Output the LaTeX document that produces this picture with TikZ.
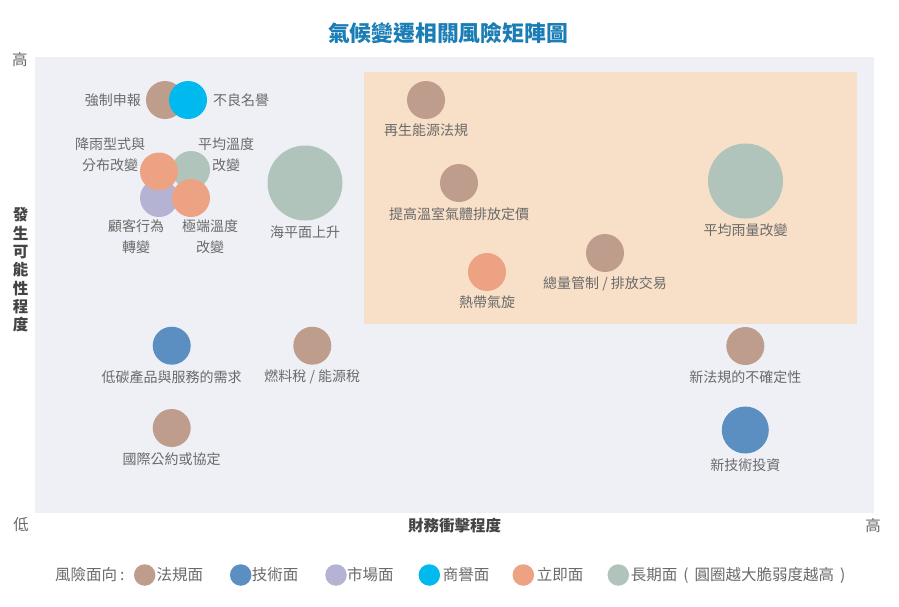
\documentclass[tikz,border=0pt]{standalone}
\usepackage{fontspec}
\setmainfont{Noto Sans CJK TC}
\definecolor{cbrown}{HTML}{BF9D8C}
\definecolor{cblue}{HTML}{5B8EC1}
\definecolor{cpurple}{HTML}{B5B3D4}
\definecolor{ccyan}{HTML}{00B9EF}
\definecolor{corange}{HTML}{EDA283}
\definecolor{cgreen}{HTML}{B0C4BC}
\definecolor{cbg}{HTML}{EFF0F6}
\definecolor{czone}{HTML}{F8DFC8}
\definecolor{ctitle}{HTML}{1A7DB5}
\definecolor{clabel}{HTML}{6A6A6A}
\definecolor{caxis}{HTML}{444444}
\begin{document}
\begin{tikzpicture}[x=1pt,y=-1pt,
  bub/.style={circle, inner sep=0pt, draw=none, minimum size=38},
  lbl/.style={text=clabel, inner sep=0pt, align=center, font=\fontsize{14}{20.7}\selectfont},
  leg/.style={text=clabel, inner sep=0pt, anchor=west, font=\fontsize{15.5}{18}\selectfont},
  legdot/.style={circle, inner sep=0pt, draw=none, minimum size=21.5},
  axisend/.style={text=clabel, inner sep=0pt, font=\fontsize{15.5}{18}\selectfont},
  axisname/.style={text=caxis, inner sep=0pt, align=center, font=\bfseries\fontsize{15.5}{18.3}\selectfont}]
\useasboundingbox (0,0) rectangle (899,606);
\fill[white] (0,0) rectangle (899,606);
% plot areas
\fill[cbg] (35,57) rectangle (874,513);
\fill[czone] (364,72) rectangle (857,324);
% title
\node[text=ctitle, font=\bfseries\fontsize{21.8}{24}\selectfont, inner sep=0pt] (title) at (448,33) {氣候變遷相關風險矩陣圖};
% axis ends
\node[axisend] (yhigh) at (20,60) {高};
\node[axisend] (ylow) at (21,525) {低};
\node[axisend] (xhigh) at (873,526) {高};
\node[axisname] (yname) at (20.5,270) {發\\生\\可\\能\\性\\程\\度};
\node[axisname] (xname) at (454.5,525.5) {財務衝擊程度};
% bubbles
\node[bub, fill=cbrown] (b1) at (165,100) {};
\node[bub, fill=ccyan] (b2) at (188,100) {};
\node[lbl, anchor=east] (l1) at (141,100) {強制申報};
\node[lbl, anchor=west] (l2) at (213,100) {不良名譽};
\node[bub, fill=cgreen] (b3) at (191,170) {};
\node[bub, fill=cpurple] (b4) at (159,198) {};
\node[bub, fill=corange] (b5) at (191,198) {};
\node[bub, fill=corange] (b6) at (159,171.5) {};
\node[lbl] (l6) at (110,154.5) {降雨型式與\\分布改變};
\node[lbl] (l3) at (226,154.5) {平均溫度\\改變};
\node[lbl] (l4) at (136,236.7) {顧客行為\\轉變};
\node[lbl] (l5) at (210,236.7) {極端溫度\\改變};
\node[bub, fill=cgreen, minimum size=75] (b7) at (305,183) {};
\node[lbl] (l7) at (305,232.5) {海平面上升};
\node[bub, fill=cbrown] (b8) at (426,100) {};
\node[lbl] (l8) at (426,130.5) {再生能源法規};
\node[bub, fill=cbrown] (b9) at (459,183) {};
\node[lbl] (l9) at (459,214) {提高溫室氣體排放定價};
\node[bub, fill=corange] (b10) at (487,272) {};
\node[lbl] (l10) at (487,302.5) {熱帶氣旋};
\node[bub, fill=cbrown] (b11) at (605,253) {};
\node[lbl] (l11) at (605,284) {總量管制 / 排放交易};
\node[bub, fill=cgreen, minimum size=75] (b12) at (745.5,181) {};
\node[lbl] (l12) at (745.5,230) {平均雨量改變};
\node[bub, fill=cblue] (b13) at (171.7,345.7) {};
\node[lbl] (l13) at (171.7,376.7) {低碳產品與服務的需求};
\node[bub, fill=cbrown] (b14) at (312.3,345.7) {};
\node[lbl] (l14) at (312.3,376.7) {燃料稅 / 能源稅};
\node[bub, fill=cbrown] (b15) at (171.7,428) {};
\node[lbl] (l15) at (171.7,458.7) {國際公約或協定};
\node[bub, fill=cbrown] (b16) at (745.3,346) {};
\node[lbl] (l16) at (745.3,377.5) {新法規的不確定性};
\node[bub, fill=cblue, minimum size=47] (b17) at (745.3,430) {};
\node[lbl] (l17) at (745.3,465.5) {新技術投資};
% legend
\node[leg] (lg0) at (55,575) {風險面向\hspace{3pt}:};
\node[legdot, fill=cbrown] (d1) at (144.7,575) {};
\node[leg] (lg1) at (156.5,575) {法規面};
\node[legdot, fill=cblue] (d2) at (240.7,575) {};
\node[leg] (lg2) at (251.7,575) {技術面};
\node[legdot, fill=cpurple] (d3) at (336,575) {};
\node[leg] (lg3) at (347,575) {市場面};
\node[legdot, fill=ccyan] (d4) at (429.3,575) {};
\node[leg] (lg4) at (442.7,575) {商譽面};
\node[legdot, fill=corange] (d5) at (523.3,575) {};
\node[leg] (lg5) at (536.7,575) {立即面};
\node[legdot, fill=cgreen] (d6) at (618.3,575) {};
\node[leg] (lg6) at (630.7,575) {長期面\hspace{6pt}(\hspace{6pt}圓圈越大脆弱度越高\hspace{6pt})};
\end{tikzpicture}
\end{document}
